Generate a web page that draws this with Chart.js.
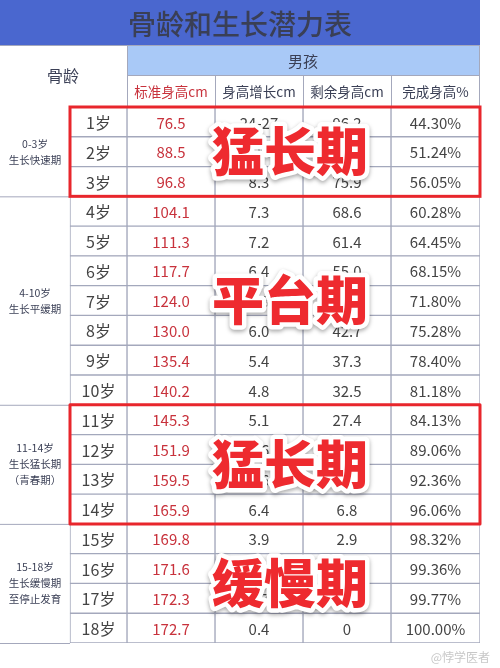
<!DOCTYPE html>
<html><head><meta charset="utf-8">
<script src="https://cdn.jsdelivr.net/npm/chart.js@4/dist/chart.umd.min.js"></script>
<style>html,body{margin:0;padding:0;background:#fff}#c{display:block}</style>
</head><body><div style="width:500px;height:668px"><canvas id="c"></canvas></div>
<script>
const ages=['1岁','2岁','3岁','4岁','5岁','6岁','7岁','8岁','9岁','10岁','11岁','12岁','13岁','14岁','15岁','16岁','17岁','18岁'];
const heights=['76.5','88.5','96.8','104.1','111.3','117.7','124.0','130.0','135.4','140.2','145.3','151.9','159.5','165.9','169.8','171.6','172.3','172.7'];
const growth=['24-27','12.0','8.3','7.3','7.2','6.4','6.3','6.0','5.4','4.8','5.1','6.6','7.6','6.4','3.9','1.8','0.7','0.4'];
const remaining=['96.2','84.2','75.9','68.6','61.4','55.0','48.7','42.7','37.3','32.5','27.4','20.8','13.2','6.8','2.9','1.1','0.4','0'];
const completion=['44.30%','51.24%','56.05%','60.28%','64.45%','68.15%','71.80%','75.28%','78.40%','81.18%','84.13%','89.06%','92.36%','96.06%','98.32%','99.36%','99.77%','100.00%'];
const periods=[{from:0,to:2,lines:['0-3岁','生长快速期']},{from:3,to:9,lines:['4-10岁','生长平缓期']},{from:10,to:13,lines:['11-14岁','生长猛长期','（青春期）']},{from:14,to:17,lines:['15-18岁','生长缓慢期','至停止发育']}];
const stages=[{from:0,to:2,text:'猛长期',box:true},{from:3,to:9,text:'平台期',box:false},{from:10,to:13,text:'猛长期',box:true},{from:14,to:17,text:'缓慢期',box:false}];
const headers=['标准身高cm','身高增长cm','剩余身高cm','完成身高%'];
const title='骨龄和生长潜力表';
const edges=[0,70,127,215,303,391,480];
const F='"Noto Sans CJK SC","Noto Sans",sans-serif';
const grid='#a4a8bc';
const cols=[ages,heights,growth,remaining,completion];
const ds=cols.map((c,k)=>({data:ages.map(()=>[edges[k+1],edges[k+2]]),backgroundColor:'#fff',borderColor:grid,borderWidth:1,borderSkipped:false}));
ds.push({data:ages.map(()=>[edges[0],edges[1]]),backgroundColor:'#fff',borderColor:'rgba(0,0,0,0)',borderWidth:0});
const plug={id:'tbl',
beforeDatasetsDraw(ch){const c=ch.ctx;c.save();
 c.fillStyle='#4a67cf';c.fillRect(0,0,480,45);
 c.fillStyle='#3a3f55';c.font='500 28px '+F;c.textAlign='center';c.textBaseline='middle';c.fillText(title,240,24);
 c.fillStyle='#a9c9f7';c.fillRect(127,45,353,30);
 c.strokeStyle=grid;c.lineWidth=1;
 c.beginPath();c.moveTo(0,45.5);c.lineTo(480,45.5);c.moveTo(127,75.5);c.lineTo(480,75.5);c.moveTo(0,107.5);c.lineTo(480,107.5);
 c.moveTo(127.5,45);c.lineTo(127.5,107);for(let k=3;k<6;k++){c.moveTo(edges[k]+.5,75);c.lineTo(edges[k]+.5,107);}c.moveTo(479.5,45);c.lineTo(479.5,107);c.stroke();
 c.fillStyle='#3a3f55';c.font='15px '+F;c.fillText('男孩',303,61);c.font='16px '+F;c.fillText('骨龄',63,76);
 c.font='13.5px '+F;headers.forEach((h,k)=>{c.fillStyle=k==0?'#c8323c':'#3a3f55';c.fillText(h,(edges[k+2]+edges[k+3])/2,92);});
 c.restore();},
afterDatasetsDraw(ch){const c=ch.ctx,y=ch.scales.y;c.save();c.textAlign='center';c.textBaseline='middle';
 const half=(y.getPixelForValue(1)-y.getPixelForValue(0))/2;
 periods.forEach(p=>{const t=y.getPixelForValue(p.from)-half,b=y.getPixelForValue(p.to)+half;
  c.strokeStyle=grid;c.beginPath();c.moveTo(0,b+.5);c.lineTo(70,b+.5);c.stroke();
  c.fillStyle='#3a3f55';c.font='10.5px '+F;const m=(t+b)/2,n=p.lines.length;p.lines.forEach((l,i)=>c.fillText(l,35,m+(i-(n-1)/2)*16));});
 ages.forEach((a,i)=>{const py=y.getPixelForValue(i);
  cols.forEach((col,k)=>{c.fillStyle=k==1?'#c8323c':'#444';c.font=(k==0?'16px ':'15px ')+F;c.fillText(col[i],(edges[k+1]+edges[k+2])/2,py+1);});});
 stages.forEach(s=>{const t=y.getPixelForValue(s.from)-half,b=y.getPixelForValue(s.to)+half;
  if(s.box){c.strokeStyle='#e8262c';c.lineWidth=3;c.strokeRect(70,t,410,b-t);}
  const m=(t+b)/2;
  c.font='900 52px '+F;c.lineJoin='round';
  c.save();c.shadowColor='rgba(0,0,0,0.35)';c.shadowBlur=4;c.shadowOffsetY=2;c.lineWidth=9;c.strokeStyle='#fff';c.strokeText(s.text,290,m);c.restore();
  c.fillStyle='#ee2a2f';c.fillText(s.text,290,m);});
 c.fillStyle='#c8c8c8';c.font='12px '+F;c.textAlign='right';c.fillText('@悖学医者',490,657);
 c.restore();}};
new Chart(document.getElementById('c'),{type:'bar',data:{labels:ages,datasets:ds},plugins:[plug],
options:{indexAxis:'y',responsive:true,maintainAspectRatio:false,animation:false,
layout:{padding:{left:0,right:20,top:107,bottom:25}},
datasets:{bar:{barPercentage:1,categoryPercentage:1,grouped:false}},
plugins:{legend:{display:false},tooltip:{enabled:false}},
scales:{x:{type:'linear',min:0,max:480,display:false},y:{display:false,offset:true}}}});
</script></body></html>
